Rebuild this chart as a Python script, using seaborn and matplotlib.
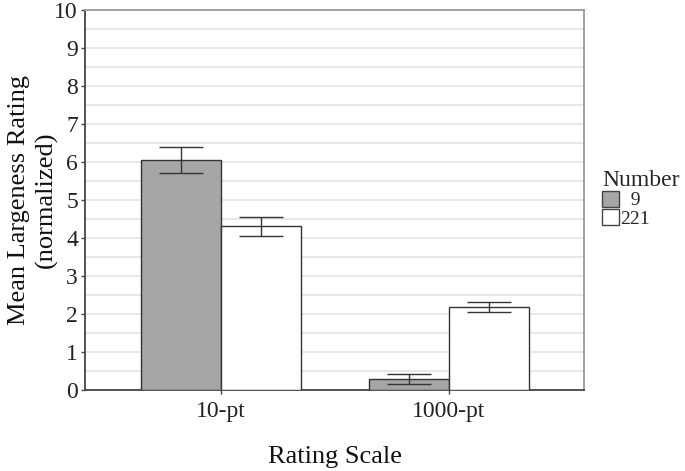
import matplotlib
matplotlib.use("Agg")
import matplotlib.pyplot as plt
import numpy as np
import pandas as pd
import seaborn as sns
from matplotlib.patches import Patch

# data
scales = ["10-pt", "10-pt", "1000-pt", "1000-pt"]
numbers = ["9", "221", "9", "221"]
means = [6.04, 4.32, 0.30, 2.18]
err_low = [5.70, 4.06, 0.16, 2.04]
err_high = [6.38, 4.56, 0.42, 2.32]

df = pd.DataFrame({"scale": scales, "number": numbers, "mean": means,
                   "lo": err_low, "hi": err_high})

sns.set_style("white")
plt.rcParams["font.family"] = ["Liberation Serif", "DejaVu Serif"]

fig = plt.figure(figsize=(6.85, 4.71), dpi=100)
ax = fig.add_axes([0.124, 0.172, 0.729, 0.807])

palette = {"9": "#a6a6a6", "221": "#ffffff"}
sns.barplot(data=df, x="scale", y="mean", hue="number", hue_order=["9", "221"],
            palette=palette, edgecolor="#333333", linewidth=1.0, width=0.7,
            errorbar=None, legend=False, ax=ax, zorder=3)

# error bars at the bar centres
for cont, num in zip(ax.containers, ["9", "221"]):
    sub = df[df["number"] == num]
    for bar, (_, row) in zip(cont, sub.iterrows()):
        xc = bar.get_x() + bar.get_width() / 2
        ax.errorbar(xc, row["mean"], yerr=[[row["mean"] - row["lo"]], [row["hi"] - row["mean"]]],
                    fmt="none", ecolor="#333333", elinewidth=1.0, capsize=16, capthick=1.0, zorder=4)

ax.set_ylim(0, 10)
ax.set_xlim(-0.595, 1.593)
ax.set_yticks(range(0, 11))
ax.set_yticks(np.arange(0.5, 10, 1), minor=True)
ax.grid(axis="y", which="both", color="#e6e6e6", linewidth=1.3, zorder=0)
ax.set_axisbelow(True)

for s in ["left", "bottom"]:
    ax.spines[s].set_color("#444444")
    ax.spines[s].set_linewidth(1.3)
for s in ["top", "right"]:
    ax.spines[s].set_color("#9a9a9a")
    ax.spines[s].set_linewidth(1.3)

ax.tick_params(axis="both", which="major", length=3, width=1, color="#444444",
               labelsize=17, labelcolor="#222222", pad=2, left=True, bottom=True)
ax.tick_params(axis="x", pad=5)
ax.tick_params(axis="y", which="minor", length=0)

ax.set_xlabel("Rating Scale", fontsize=19, labelpad=17, color="#111111")
ax.set_ylabel("Mean Largeness Rating\n(normalized)", fontsize=19,
              color="#111111", linespacing=1.3)
ax.yaxis.set_label_coords(-0.054, 0.5)

handles = [Patch(facecolor=palette[n], edgecolor="#444444", linewidth=1.0) for n in ["9", "221"]]
leg = fig.legend(handles, ["  9", "221"], title="Number", loc="upper left",
                 bbox_to_anchor=(0.879, 0.64), frameon=False, fontsize=14,
                 title_fontsize=17, handlelength=0.85, handleheight=0.9,
                 handletextpad=0.1, labelspacing=0.0, borderpad=0, borderaxespad=0)
leg._legend_box.align = "left"
leg._legend_box.sep = 0

fig.savefig("out.png", dpi=100)
